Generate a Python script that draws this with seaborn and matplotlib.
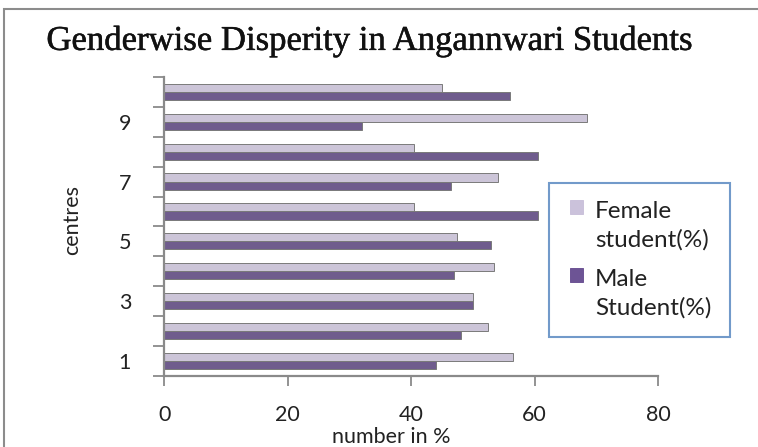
import pandas as pd
import matplotlib.pyplot as plt
import matplotlib.patheffects as pe
from matplotlib.patches import Rectangle
from matplotlib.legend_handler import HandlerPatch
from matplotlib.ticker import FixedLocator
import seaborn as sns

# values
centres = ["1", "2", "3", "4", "5", "6", "7", "8", "9", "10"]
female = [56.5, 52.5, 50, 53.5, 47.5, 40.5, 54, 40.5, 68.5, 45]
male = [44, 48, 50, 47, 53, 60.5, 46.5, 60.5, 32, 56]
series = ["Female\nstudent(%)", "Male\nStudent(%)"]
colors = ["#CBC2DB", "#6D5495"]

df = pd.DataFrame({
    "centre": centres * 2,
    "value": female + male,
    "series": [series[0]] * len(centres) + [series[1]] * len(centres),
})

sns.set_theme(style="white")
plt.rcParams["font.family"] = ["Lato", "DejaVu Sans"]

fig = plt.figure(figsize=(7.58, 4.47), dpi=100)
ax = fig.add_axes([0.217, 0.159, 0.651, 0.669])

sns.barplot(data=df, y="centre", x="value", hue="series", orient="h",
            order=centres[::-1], hue_order=series, palette=colors,
            width=0.54, edgecolor="#7a7a7a", linewidth=0.7, ax=ax)

ax.set_xlim(0, 80)
ax.set_ylim(9.5, -0.5)
ax.set_xticks([0, 20, 40, 60, 80])
ax.tick_params(axis="x", labelsize=15.5, length=7, width=1.3, color="#8a8a8a",
               direction="out", pad=14, bottom=True, labelcolor="#222222")

# odd centre labels only, tick marks sit between categories
order = centres[::-1]
ax.set_yticks(range(len(order)))
ax.set_yticklabels([c if int(c) % 2 == 1 else "" for c in order])
ax.tick_params(axis="y", which="major", length=0, labelsize=15.5, pad=24,
               labelcolor="#222222")
ax.yaxis.set_minor_locator(FixedLocator([i - 0.5 for i in range(len(order) + 1)]))
ax.tick_params(axis="y", which="minor", length=8, width=1.3, color="#8a8a8a",
               direction="out", left=True)

for s in ["top", "right"]:
    ax.spines[s].set_visible(False)
for s in ["left", "bottom"]:
    ax.spines[s].set_color("#8a8a8a")
    ax.spines[s].set_linewidth(1.6)

ax.set_xlabel("number in %", fontsize=15.5, color="#222222")
ax.xaxis.set_label_coords(0.46, -0.172)
ax.set_ylabel("centres", fontsize=15.5, color="#222222")
ax.yaxis.set_label_coords(-0.166, 0.52)


# legend squares sit level with the first line of each label
def top_square(legend, orig_handle, xdescent, ydescent, width, height, fontsize):
    size = 0.55 * fontsize
    return Rectangle((-xdescent + 2, -ydescent + 0.85 * fontsize), size, size)


leg = ax.legend(loc="upper left", bbox_to_anchor=(549 / 758, 1 - 183 / 447),
                bbox_transform=fig.transFigure, fontsize=17.5, frameon=True,
                fancybox=False, handlelength=0.75, handleheight=0.7,
                handletextpad=0.4, labelspacing=0.75, borderpad=0.75,
                borderaxespad=0,
                handler_map={Rectangle: HandlerPatch(patch_func=top_square)})
leg.get_frame().set_edgecolor("#4F81BD")
leg.get_frame().set_linewidth(1.5)
for t in leg.get_texts():
    t.set_color("#222222")
    t.set_linespacing(1.4)
for h, c in zip(leg.legend_handles, colors):
    h.set_facecolor(c)
    h.set_edgecolor(c)

fig.text(0.488, 0.908, "Genderwise Disperity in Angannwari Students",
         ha="center", va="center", fontsize=25, family="Liberation Serif",
         color="#111111",
         path_effects=[pe.withStroke(linewidth=0.35, foreground="#111111")])

# chart frame
fig.patches.append(Rectangle((4 / 758, -0.1), 1.2, 1 - 9 / 447 + 0.1,
                             transform=fig.transFigure, fill=False,
                             edgecolor="#8c8c8c", linewidth=1.5))

plt.savefig("out.png", dpi=100)
plt.close()
